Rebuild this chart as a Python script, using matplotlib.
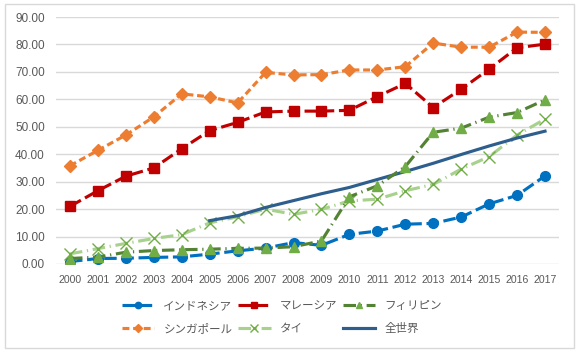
import matplotlib
matplotlib.use("Agg")
import matplotlib.pyplot as plt
from matplotlib.patches import Rectangle
import numpy as np

plt.rcParams['font.family'] = ['Noto Sans CJK JP', 'DejaVu Sans']

years = [str(y) for y in range(2000, 2018)]
indonesia = [0.9, 2.0, 2.1, 2.4, 2.6, 3.6, 4.8, 5.8, 7.8, 6.8, 10.8, 12.0, 14.5, 14.8, 17.1, 21.9, 25.0, 32.1]
malaysia = [21.0, 26.7, 32.0, 35.0, 42.0, 48.6, 51.6, 55.4, 55.7, 55.7, 56.0, 61.0, 65.8, 57.0, 63.7, 71.0, 78.8, 80.1]
philippines = [2.0, 2.5, 4.3, 4.9, 5.2, 5.4, 5.7, 5.8, 6.3, 8.4, 24.5, 28.5, 35.5, 48.0, 49.5, 53.5, 55.2, 59.8]
singapore = [35.8, 41.4, 47.0, 53.6, 62.0, 60.9, 58.7, 69.8, 68.9, 69.0, 70.7, 70.7, 71.9, 80.5, 79.0, 79.0, 84.5, 84.4]
thailand = [3.7, 5.6, 7.5, 9.3, 10.7, 15.0, 17.2, 20.0, 18.1, 19.9, 23.0, 23.6, 26.7, 29.0, 34.6, 39.1, 47.0, 52.8]
world_years = [str(y) for y in range(2005, 2018)]
world = [15.8, 17.6, 20.6, 23.1, 25.6, 27.9, 30.8, 33.7, 36.7, 39.9, 43.0, 45.9, 48.4]

names = ['インドネシア', 'マレーシア', 'フィリピン', 'シンガポール', 'タイ', '全世界']

fig = plt.figure(figsize=(5.79, 3.52), dpi=100)
fig.patches.append(Rectangle((5/579, 4/352), 569/579, 344/352, transform=fig.transFigure,
                             fill=False, edgecolor='#D9D9D9', linewidth=1.0))
ax = fig.add_axes([56/579, 1-264/352, 503/579, 247/352])

x = np.arange(len(years))
xw = np.arange(len(years) - len(world_years), len(years))
lw = 2.25

h_ind, = ax.plot(x, indonesia, color='#0070C0', lw=lw, dashes=(4, 1.5), marker='o', ms=7,
                 mfc='#0070C0', mec='#0070C0', label=names[0], zorder=3)
h_mal, = ax.plot(x, malaysia, color='#C00000', lw=lw, dashes=(4, 1.5), marker='s', ms=7,
                 mfc='#C00000', mec='#C00000', label=names[1], zorder=3)
h_phi, = ax.plot(x, philippines, color='#548235', lw=lw, dashes=(4, 1.5, 0.4, 1.5), marker='^', ms=7,
                 mfc='#70AD47', mec='#70AD47', label=names[2], zorder=4)
h_sin, = ax.plot(x, singapore, color='#ED7D31', lw=lw, dashes=(2.2, 1.2), marker='D', ms=6,
                 mfc='#ED7D31', mec='#ED7D31', label=names[3], zorder=3)
h_tha, = ax.plot(x, thailand, color='#A9D18E', lw=lw, dashes=(4, 1.5, 0.4, 1.5), marker='x', ms=8,
                 mew=1.0, mfc='#70AD47', mec='#70AD47', label=names[4], zorder=3)
h_wor, = ax.plot(xw, world, color='#2E5E8E', lw=lw, label=names[5], zorder=3)

ax.set_xlim(-0.5, len(years) - 0.5)
ax.set_ylim(0, 90)
ax.set_yticks(np.arange(0, 91, 10))
ax.set_yticklabels([f'{v:.2f}' for v in np.arange(0, 91, 10)])
ax.set_xticks(x)
ax.set_xticklabels(years)
ax.grid(axis='y', color='#D9D9D9', lw=1.0)
ax.set_axisbelow(True)
for s in ax.spines.values():
    s.set_visible(False)
ax.tick_params(axis='both', length=0, colors='#595959')
ax.tick_params(axis='y', labelsize=8.5, pad=8)
ax.tick_params(axis='x', labelsize=7.6, pad=8)
for lab in ax.get_xticklabels() + ax.get_yticklabels():
    lab.set_family(['Liberation Sans', 'DejaVu Sans'])

handles = [h_ind, h_sin, h_mal, h_tha, h_phi, h_wor]
leg = fig.legend(handles=handles, labels=[h.get_label() for h in handles], ncol=3,
                 loc='center', bbox_to_anchor=(0.487, 1-317/352), frameon=False,
                 fontsize=8.3, handlelength=2.8, columnspacing=0.5, handletextpad=0.8,
                 labelspacing=0.85, labelcolor='#595959', markerscale=0.65)

fig.savefig('out.png', dpi=100)
